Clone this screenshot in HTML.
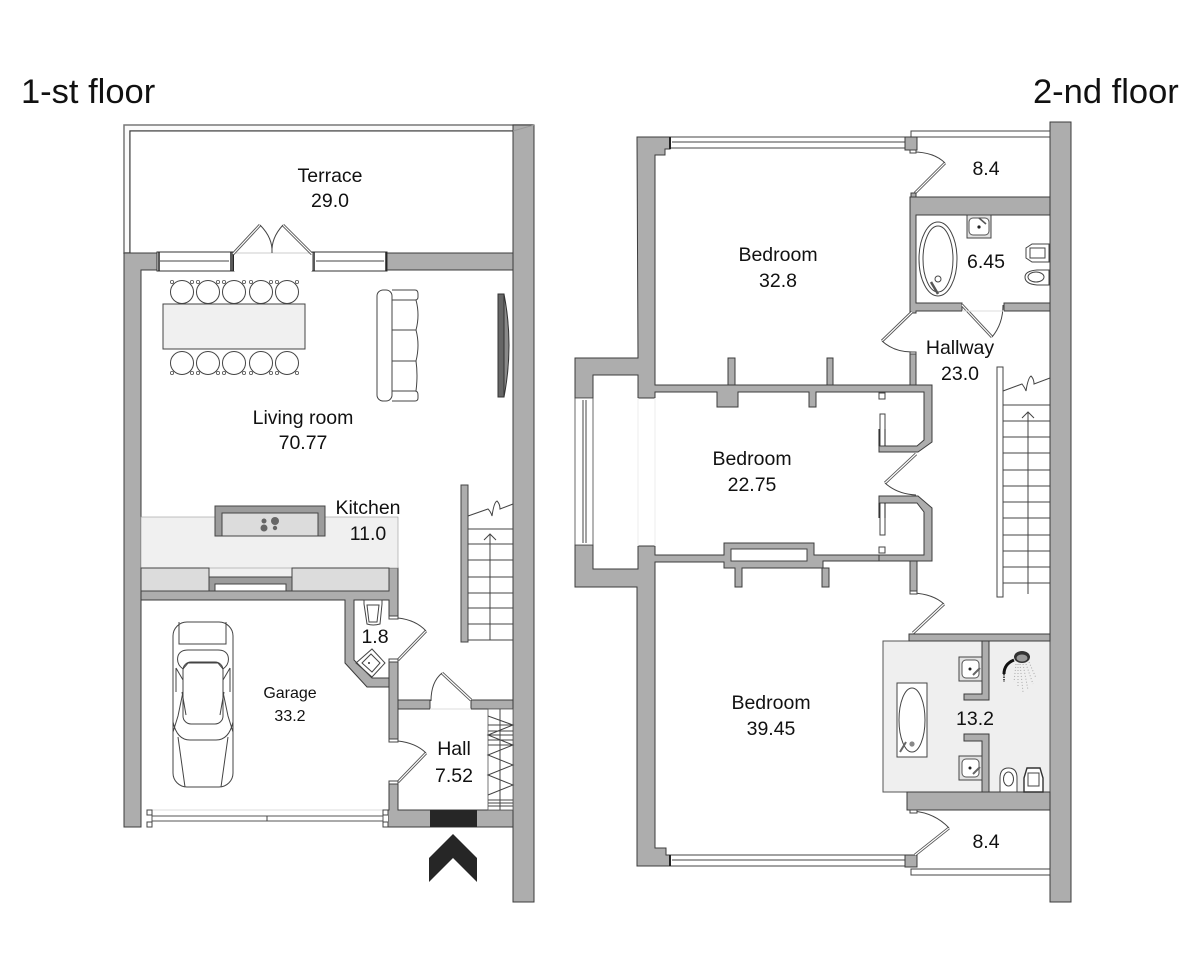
<!DOCTYPE html>
<html><head><meta charset="utf-8"><style>
html,body{margin:0;padding:0;background:#fff}
svg{display:block}
text{font-family:"Liberation Sans",sans-serif;fill:#111;text-anchor:middle;font-size:19.5px}
.w{fill:#adadad;stroke:#3c3c3c;stroke-width:1}
.l{fill:none;stroke:#444;stroke-width:1}
.f{fill:#fff;stroke:#444;stroke-width:1}
.leaf{fill:none;stroke:#555;stroke-width:3}
.leafi{fill:none;stroke:#fff;stroke-width:1.2}
.t{font-size:34.500px;text-anchor:start}
</style></head><body>
<svg width="1200" height="960" viewBox="0 0 1200 960" xmlns="http://www.w3.org/2000/svg">
<text class="t" x="21" y="103">1-st floor</text>
<text class="t" x="1033" y="103">2-nd floor</text>

<!-- FIRST FLOOR -->
<path d="M124 125H534L513 131H130V253H124Z" fill="#fafafa" stroke="#777" stroke-width="1.500"/>
<rect x="130" y="131" width="383" height="122" fill="#fff" stroke="#333"/>
<rect class="w" x="513" y="125" width="21" height="777" stroke-width="0.6"/>
<path d="M534 125L513 131" stroke="#999" fill="none"/>
<path class="w" d="M124 253H513V270H141V827H124Z"/>
<rect x="209" y="568" width="83" height="10" fill="#f0f0f0"/>
<path class="w" d="M141 591H389V568H398V618H389V600H354V660L372 678H389V687H367L345 663V600H141Z"/>
<rect class="w" x="389" y="660" width="9" height="80"/>
<path class="w" d="M389 782H398V810H513V827H388V810H389Z"/>
<rect class="w" x="398" y="700" width="32" height="9"/>
<rect class="w" x="471" y="700" width="42" height="9"/>
<!-- top windows -->
<rect x="157" y="252" width="77" height="19" fill="#fff" stroke="#333"/>
<rect x="312" y="252" width="75" height="19" fill="#fff" stroke="#333"/>
<path d="M160 261H229M316 261H384" class="l"/>
<path d="M159 252V271M231 252V271M314 252V271M233 252V271M386 252V271" stroke="#222" stroke-width="1.5"/>
<rect x="234" y="253" width="78" height="18" fill="#fff"/>
<path d="M233 253H312" stroke="#ccc"/>
<path class="leaf" d="M233 254L260 225M312 254L283 225"/>
<path class="leafi" d="M233 254L260 225M312 254L283 225"/>
<path class="l" d="M260 225Q273 238 272 253M283 225Q271 238 272 253"/>
<!-- dining -->
<rect x="163" y="304" width="142" height="45" fill="#f0f0f0" stroke="#444"/>
<g>
<circle cx="182" cy="292" r="11.5" class="f"/><circle cx="208" cy="292" r="11.5" class="f"/><circle cx="234" cy="292" r="11.5" class="f"/><circle cx="261" cy="292" r="11.5" class="f"/><circle cx="287" cy="292" r="11.5" class="f"/>
<circle cx="182" cy="363" r="11.5" class="f"/><circle cx="208" cy="363" r="11.5" class="f"/><circle cx="234" cy="363" r="11.5" class="f"/><circle cx="261" cy="363" r="11.5" class="f"/><circle cx="287" cy="363" r="11.5" class="f"/>
</g>
<g fill="#fff" stroke="#555" stroke-width=".8">
<circle cx="172" cy="282" r="1.6"/><circle cx="192" cy="282" r="1.6"/><circle cx="198" cy="282" r="1.6"/><circle cx="218" cy="282" r="1.6"/><circle cx="224" cy="282" r="1.6"/><circle cx="244" cy="282" r="1.6"/><circle cx="251" cy="282" r="1.6"/><circle cx="271" cy="282" r="1.6"/><circle cx="277" cy="282" r="1.6"/><circle cx="297" cy="282" r="1.6"/>
<circle cx="172" cy="373" r="1.6"/><circle cx="192" cy="373" r="1.6"/><circle cx="198" cy="373" r="1.6"/><circle cx="218" cy="373" r="1.6"/><circle cx="224" cy="373" r="1.6"/><circle cx="244" cy="373" r="1.6"/><circle cx="251" cy="373" r="1.6"/><circle cx="271" cy="373" r="1.6"/><circle cx="277" cy="373" r="1.6"/><circle cx="297" cy="373" r="1.6"/>
</g>
<!-- sofa -->
<rect x="377" y="290" width="15" height="111" rx="6" class="f"/>
<path class="l" d="M392 290H415Q418 290 418 294V297Q418 300 415 300H392M392 300H416Q420 315 416 330H392M392 330H416Q420 345 416 361H392M392 361H416Q418 375 416 391H392M392 391H415Q418 391 418 395V398Q418 401 415 401H392"/>
<!-- TV -->
<rect x="498" y="294" width="6" height="103" fill="#666" stroke="#333"/>
<path d="M504 294Q514 345 504 397Z" fill="#8a8a8a" stroke="#333"/>

<!-- kitchen -->
<rect x="141" y="517" width="257" height="51" fill="#f0f0f0" stroke="#999" stroke-width=".6"/>
<rect x="215" y="506" width="110" height="30" fill="#9c9c9c" stroke="#444"/>
<rect x="222" y="513" width="96" height="23" fill="#dcdcdc" stroke="#444"/>
<circle cx="264" cy="521" r="2.5" fill="#666"/><circle cx="275" cy="521" r="4" fill="#666"/><circle cx="264" cy="528" r="3.5" fill="#666"/><circle cx="275" cy="528" r="2.2" fill="#666"/>
<rect x="141" y="568" width="68" height="23" fill="#dcdcdc" stroke="#444"/>
<rect x="209" y="577" width="83" height="14" fill="#9c9c9c" stroke="#444"/>
<rect x="215" y="584" width="71" height="7" fill="#fff" stroke="#444"/>
<rect x="292" y="568" width="97" height="23" fill="#dcdcdc" stroke="#444"/>
<!-- WC -->
<path class="f" d="M364 600H382V604L380 624Q373 626 367 624L364 604Z"/>
<path class="l" d="M367 605H379L377 622H369Z"/>
<path class="l" d="M372 649L385 663L372 677L356 663Z"/><path class="l" d="M371 654L380 663L372 672L362 663Z"/>
<circle cx="369" cy="663" r="1" fill="#333"/>
<path class="leaf" d="M398 660L426 631"/><path class="leafi" d="M398 660L426 631"/>
<path class="l" d="M398 618Q416 620 426 631"/>
<rect x="389" y="616" width="9" height="3" class="f"/><rect x="389" y="659" width="9" height="3" class="f"/>
<!-- hall doors -->
<path class="leaf" d="M398 782L426 753"/><path class="leafi" d="M398 782L426 753"/>
<path class="l" d="M398 741Q416 743 426 753"/>
<rect x="389" y="739" width="9" height="3" class="f"/><rect x="389" y="781" width="9" height="3" class="f"/>
<path class="leaf" d="M471 700L442 673"/><path class="leafi" d="M471 700L442 673"/>
<path class="l" d="M442 673Q431 682 431 701"/>
<path d="M430 709H471" stroke="#ddd"/>
<!-- wardrobe -->
<rect x="488" y="709" width="25" height="101" fill="#fff" stroke="#555" stroke-width=".8"/>
<path class="l" d="M488 716L513 725L488 735L513 745L488 755L513 765L488 775L513 785L488 795M488 725H513M488 731H513M488 735H513M488 740H513M488 745H513M488 800H513M488 803H513M488 806H513M500 709V810" stroke-width=".8"/>
<!-- stairs -->
<rect x="461" y="485" width="7" height="157" fill="#adadad" stroke="#444"/>
<path class="l" d="M468 529H513M468 544H513M468 560H513M468 577H513M468 593H513M468 608H513M468 624H513M468 640H513"/>
<path class="l" d="M468 516L488 509Q491 512 492 516Q494 502 497 501Q500 504 500 509L513 504"/>
<path class="l" stroke-width="1.2" d="M490 640V534M484 540L490 534L496 540"/>
<!-- garage door -->
<rect x="147" y="810" width="241" height="17" fill="#fff"/>
<path d="M150 810H385" stroke="#ddd"/>
<rect x="152" y="816" width="231" height="5" fill="#fff" stroke="#555"/>
<path class="l" d="M267 816V821"/>
<rect x="147" y="810" width="5" height="5" class="f"/><rect x="147" y="822" width="5" height="5" class="f"/>
<rect x="383" y="810" width="5" height="5" class="f"/><rect x="383" y="822" width="5" height="5" class="f"/>
<!-- entry -->
<rect x="430" y="810" width="47" height="17" fill="#262626"/>
<path d="M453 834L477 858V882L453 858L429 882V858Z" fill="#262626"/>
<!-- car -->
<g class="l" stroke-width=".9">
<rect x="173" y="622" width="60" height="165" rx="14"/>
<path d="M179 622V644H226V622M183 669Q176 664 178 656Q180 650 188 650H218Q226 650 228 656Q230 664 223 669L218 663H188Z"/>
<rect x="183" y="662" width="40" height="62" rx="8"/>
<path d="M176 668L183 680V692L178 716L173 732M230 668L223 680V692L228 716L233 732M176 668V692M230 668V692M173 722Q177 740 190 740H216Q229 740 233 722M178 737L185 787M228 737L221 787M182 692L186 715M224 692L220 715"/>
</g>

<text x="330" y="182">Terrace</text><text x="330" y="207">29.0</text>
<text x="303" y="424">Living room</text><text x="303" y="449">70.77</text>
<text x="368" y="514">Kitchen</text><text x="368" y="540">11.0</text>
<text x="290" y="698" style="font-size:16px">Garage</text><text x="290" y="721" style="font-size:16px">33.2</text>
<text x="375" y="643">1.8</text>
<text x="454" y="755">Hall</text><text x="454" y="782">7.52</text>

<!-- SECOND FLOOR -->
<rect class="w" x="1050" y="122" width="21" height="780" stroke-width=".6"/>
<path d="M911 137V131H1050V137Z" fill="#fff" stroke="#444"/>
<path d="M911 875V869H1050V875Z" fill="#fff" stroke="#444"/>
<!-- left wall with bay -->
<path class="w" d="M637 137H670V149H665V155H655V385H910V352H916V385H932V442L918 452H879V446H917L924 440V392H816V407H809V392H738V407H717V392H655V398H638V375H593V398H575V358H638Z"/>
<path class="w" d="M728 358H735V385H728ZM827 358H833V385H827Z"/>
<path class="w" d="M575 545H593V569H638V546H655V555H724V543H814V555H823V555H879V561H823V568H829V587H822V568H742V587H735V568H724V562H655V848H666V855H670V866H637V587H575Z"/>
<rect x="731" y="549" width="76" height="12" class="f"/>
<path class="w" d="M879 496H918L932 508V561H879V555H924V512L917 503H879Z"/>
<path class="w" d="M910 561H917V592H910Z"/>
<!-- bay window -->
<rect x="575" y="398" width="18" height="147" fill="#fff" stroke="#444" stroke-width=".8"/>
<path class="l" d="M583 400V543M586 400V543" stroke-width=".8"/>
<path d="M638 398V546M655 398V546" stroke="#eee"/>
<!-- top & bottom windows -->
<rect x="670" y="137" width="238" height="11" fill="#fff" stroke="#444"/><path class="l" d="M672 142H906"/>
<rect x="670" y="855" width="238" height="11" fill="#fff" stroke="#444"/><path class="l" d="M672 860H906"/>
<path d="M670 137V149M670 855V866" stroke="#222" stroke-width="2"/>
<path class="w" d="M905 137H917V150H905Z"/>
<path class="w" d="M905 855H917V867H905Z"/>
<!-- closets -->
<rect x="880" y="414" width="5" height="32" class="f"/>
<rect x="880" y="503" width="5" height="32" class="f"/>
<path d="M879 429V446M885 429V446M879 503V518M885 503V518" stroke="#222" stroke-width="1"/>
<rect x="879" y="393" width="6" height="6" class="f"/>
<rect x="879" y="547" width="6" height="6" class="f"/>
<path class="leaf" d="M916 454L885 483"/><path class="leafi" d="M916 454L885 483"/>
<path class="l" d="M885 483Q897 494 916 495"/>
<!-- upper right -->
<path class="w" d="M910 197H1050V215H916V303H962V311H916V313H910Z"/>
<rect class="w" x="1004" y="303" width="46" height="8"/>
<rect class="w" x="910" y="352" width="6" height="33"/>
<path class="leaf" d="M945 163L915 193"/><path class="leafi" d="M945 163L915 193"/>
<path class="l" d="M913 152Q934 152 945 163"/>
<rect class="w" x="911" y="193" width="5" height="4"/>
<rect class="f" x="910" y="150" width="6" height="3"/>
<path class="leaf" d="M912 312L882 341"/><path class="leafi" d="M912 312L882 341"/>
<path class="l" d="M882 341Q894 352 912 352"/>
<path class="leaf" d="M962 305L992 337"/><path class="leafi" d="M962 305L992 337"/>
<path class="l" d="M992 337Q1003 324 1003 305"/>
<path d="M962 311H1004" stroke="#ddd"/>
<!-- bath upper -->
<ellipse cx="938" cy="259" rx="19" ry="37" class="f"/><ellipse cx="938" cy="259" rx="15" ry="33" class="l"/>
<circle cx="938" cy="279" r="3" class="l"/>
<path d="M931 282L938 294" stroke="#555" stroke-width="2.5"/>
<rect x="967" y="215" width="24" height="23" fill="#e2e2e2" stroke="#444"/>
<rect x="969" y="218" width="20" height="17" rx="4" fill="#fff" stroke="#555"/>
<circle cx="979" cy="227" r="1.6" fill="#222"/>
<path d="M979 218L986 224" stroke="#555" stroke-width="1.6"/>
<path class="f" d="M1049 244V262H1032L1026 258V248L1032 244Z"/><path class="l" d="M1030 248H1045V258H1030Z"/>
<path class="f" d="M1049 270V285H1037Q1025 284 1025 277Q1025 271 1037 270Z"/>
<ellipse cx="1036" cy="277" rx="8" ry="5" class="l"/>
<!-- stairs 2 -->
<rect x="997" y="367" width="6" height="230" fill="#fff" stroke="#444"/>
<path class="l" d="M1003 405H1050M1003 421H1050M1003 437H1050M1003 453H1050M1003 470H1050M1003 486H1050M1003 502H1050M1003 518H1050M1003 535H1050M1003 551H1050M1003 567H1050M1003 583H1050"/>
<path class="l" d="M1003 391L1022 384Q1025 388 1026 391Q1028 378 1031 376Q1034 379 1034 384L1050 378"/>
<path class="l" stroke-width="1.2" d="M1028 594V412M1022 418L1028 412L1034 418"/>
<!-- lower door -->
<path class="leaf" d="M944 604L913 633"/><path class="leafi" d="M944 604L913 633"/>
<path class="l" d="M913 593Q933 594 944 604"/>
<rect class="f" x="910" y="591" width="7" height="3"/>
<!-- bathroom lower -->
<rect x="883" y="641" width="167" height="151" fill="#efefef" stroke="#555"/>
<rect class="w" x="909" y="634" width="141" height="7"/>
<rect class="w" x="907" y="792" width="143" height="18"/>
<path class="w" d="M982 641H989V700H964V694H982Z"/>
<path class="w" d="M964 734H989V792H982V741H964Z"/>
<rect x="959" y="657" width="23" height="24" fill="#e2e2e2" stroke="#444"/><rect x="962" y="660" width="17" height="18" rx="4" fill="#fff" stroke="#555"/>
<rect x="959" y="756" width="23" height="24" fill="#e2e2e2" stroke="#444"/><rect x="962" y="759" width="17" height="18" rx="4" fill="#fff" stroke="#555"/>
<circle cx="970" cy="669" r="1.5" fill="#222"/><circle cx="970" cy="768" r="1.5" fill="#222"/>
<path d="M973 675L980 668M973 774L980 767" stroke="#666" stroke-width="2"/>
<rect x="897" y="683" width="30" height="74" fill="#fff" stroke="#444"/>
<ellipse cx="912" cy="720" rx="13" ry="32" class="l"/>
<circle cx="912" cy="744" r="2.6" fill="#888"/>
<path d="M900 752L906 742" stroke="#666" stroke-width="2"/>
<path class="f" d="M1000 792V778Q1000 768 1008.500 768Q1017 768 1017 778V792Z"/>
<ellipse cx="1008.500" cy="779" rx="5" ry="7" class="l"/>
<path d="M1024 792V778L1027 768H1040L1043 778V792Z" fill="#fff" stroke="#333" stroke-width="1.4"/>
<path class="l" d="M1028 773H1039V786H1028Z"/>
<!-- shower -->
<ellipse cx="1022" cy="657" rx="8" ry="6" fill="#333"/>
<ellipse cx="1022" cy="658" rx="5.500" ry="3.500" fill="#999"/>
<path d="M1014 660Q1004 664 1004 674" fill="none" stroke="#111" stroke-width="3"/>
<path d="M1004 674V682" stroke="#222" stroke-width="1.5" stroke-dasharray="1.500 1"/>
<path d="M1016 664L1014 682M1020 664L1023 692M1023 664L1028 690M1026 664L1033 684M1018 664L1018 687M1029 662L1036 678" stroke="#aaa" stroke-width="1" stroke-dasharray="1 2" fill="none"/>
<!-- bottom balcony door -->
<path class="leaf" d="M949 828L915 855"/><path class="leafi" d="M949 828L915 855"/>
<path class="l" d="M913 811Q935 813 949 828"/>
<rect class="f" x="910" y="810" width="7" height="3"/>
<rect class="f" x="910" y="352" width="6" height="2"/>

<text x="778" y="261">Bedroom</text><text x="778" y="287">32.8</text>
<text x="752" y="465">Bedroom</text><text x="752" y="491">22.75</text>
<text x="771" y="709">Bedroom</text><text x="771" y="735">39.45</text>
<text x="986" y="175">8.4</text>
<text x="986" y="268">6.45</text>
<text x="960" y="354">Hallway</text><text x="960" y="380">23.0</text>
<text x="975" y="725">13.2</text>
<text x="986" y="848">8.4</text>
</svg>
</body></html>
